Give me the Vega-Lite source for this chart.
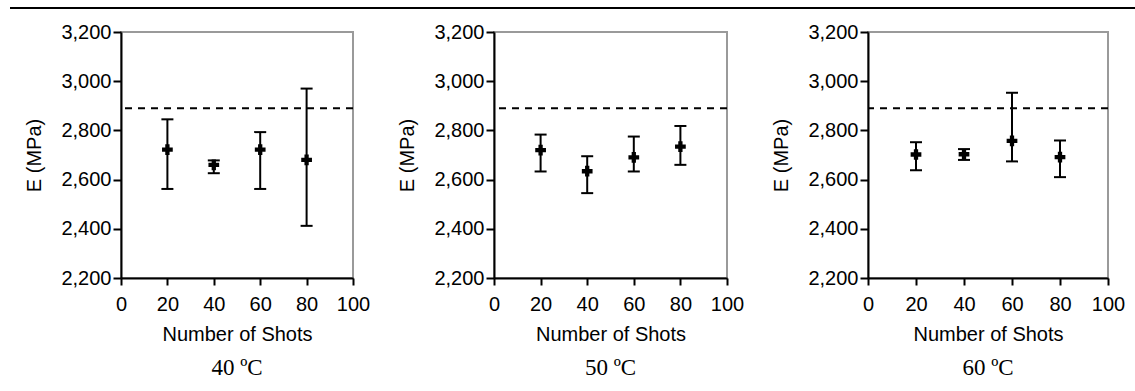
{
  "$schema": "https://vega.github.io/schema/vega-lite/v6.json",
  "padding": {"left": 9, "top": 7, "right": 0, "bottom": 0},
  "background": "white",
  "datasets": {
    "pts": [
      {"temp": "40 ºC", "shots": 20, "E": 2722, "lo": 2562, "hi": 2845},
      {"temp": "40 ºC", "shots": 40, "E": 2660, "lo": 2626, "hi": 2678},
      {"temp": "40 ºC", "shots": 60, "E": 2722, "lo": 2562, "hi": 2793},
      {"temp": "40 ºC", "shots": 80, "E": 2680, "lo": 2412, "hi": 2970},
      {"temp": "50 ºC", "shots": 20, "E": 2720, "lo": 2633, "hi": 2783},
      {"temp": "50 ºC", "shots": 40, "E": 2634, "lo": 2545, "hi": 2695},
      {"temp": "50 ºC", "shots": 60, "E": 2690, "lo": 2633, "hi": 2775},
      {"temp": "50 ºC", "shots": 80, "E": 2734, "lo": 2660, "hi": 2818},
      {"temp": "60 ºC", "shots": 20, "E": 2702, "lo": 2638, "hi": 2752},
      {"temp": "60 ºC", "shots": 40, "E": 2703, "lo": 2680, "hi": 2724},
      {"temp": "60 ºC", "shots": 60, "E": 2757, "lo": 2674, "hi": 2953},
      {"temp": "60 ºC", "shots": 80, "E": 2691, "lo": 2610, "hi": 2759}
    ],
    "ref": [
      {"temp": "40 ºC", "E": 2890},
      {"temp": "50 ºC", "E": 2890},
      {"temp": "60 ºC", "E": 2890}
    ],
    "top": [{"line": 1}],
    "none": []
  },
  "vconcat": [
    {
      "width": 1126,
      "height": 2,
      "data": {"name": "top"},
      "view": {"stroke": null},
      "mark": {"type": "rule", "color": "black", "strokeWidth": 2},
      "encoding": {"y": {"field": "line", "type": "quantitative", "scale": {"domain": [0, 1]}, "axis": null}}
    },
    {
      "hconcat": [
        {
          "width": 1, "height": 246,
          "data": {"name": "none"},
          "view": {"stroke": null},
          "mark": {"type": "point"},
          "encoding": {}
        },
        {
          "hconcat": [
            {
              "width": 232, "height": 246,
              "title": {"text": "40 ºC"},
              "layer": [
                {"data": {"name": "ref"}, "transform": [{"filter": "datum.temp == '40 ºC'"}],
                 "mark": {"type": "rule", "color": "black", "strokeWidth": 2, "strokeDash": [7, 6]},
                 "encoding": {"y": {"field": "E", "type": "quantitative", "scale": {"domain": [2200, 3200], "nice": false, "zero": false}, "axis": {"title": "E (MPa)", "values": [2200, 2400, 2600, 2800, 3000, 3200], "format": ",d"}}}},
                {"data": {"name": "pts"}, "transform": [{"filter": "datum.temp == '40 ºC'"}],
                 "mark": {"type": "rule", "color": "black", "strokeWidth": 2},
                 "encoding": {
                   "x": {"field": "shots", "type": "quantitative", "scale": {"domain": [0, 100], "nice": false, "zero": false}, "axis": {"title": "Number of Shots", "values": [0, 20, 40, 60, 80, 100]}},
                   "y": {"field": "lo", "type": "quantitative", "axis": {"title": "E (MPa)", "values": [2200, 2400, 2600, 2800, 3000, 3200], "format": ",d"}},
                   "y2": {"field": "hi"}}},
                {"data": {"name": "pts"}, "transform": [{"filter": "datum.temp == '40 ºC'"}],
                 "mark": {"type": "tick", "orient": "horizontal", "color": "black", "thickness": 2, "size": 12, "opacity": 1},
                 "encoding": {"x": {"field": "shots", "type": "quantitative", "axis": {"title": "Number of Shots", "values": [0, 20, 40, 60, 80, 100]}}, "y": {"field": "lo", "type": "quantitative", "axis": {"title": "E (MPa)", "values": [2200, 2400, 2600, 2800, 3000, 3200], "format": ",d"}}}},
                {"data": {"name": "pts"}, "transform": [{"filter": "datum.temp == '40 ºC'"}],
                 "mark": {"type": "tick", "orient": "horizontal", "color": "black", "thickness": 2, "size": 12, "opacity": 1},
                 "encoding": {"x": {"field": "shots", "type": "quantitative", "axis": {"title": "Number of Shots", "values": [0, 20, 40, 60, 80, 100]}}, "y": {"field": "hi", "type": "quantitative", "axis": {"title": "E (MPa)", "values": [2200, 2400, 2600, 2800, 3000, 3200], "format": ",d"}}}},
                {"data": {"name": "pts"}, "transform": [{"filter": "datum.temp == '40 ºC'"}],
                 "mark": {"type": "point", "shape": "cross", "filled": true, "color": "black", "size": 115, "opacity": 1},
                 "encoding": {"x": {"field": "shots", "type": "quantitative", "axis": {"title": "Number of Shots", "values": [0, 20, 40, 60, 80, 100]}}, "y": {"field": "E", "type": "quantitative", "axis": {"title": "E (MPa)", "values": [2200, 2400, 2600, 2800, 3000, 3200], "format": ",d"}}}}
              ]
            },
            {
              "width": 233, "height": 246,
              "title": {"text": "50 ºC"},
              "layer": [
                {"data": {"name": "ref"}, "transform": [{"filter": "datum.temp == '50 ºC'"}],
                 "mark": {"type": "rule", "color": "black", "strokeWidth": 2, "strokeDash": [7, 6]},
                 "encoding": {"y": {"field": "E", "type": "quantitative", "scale": {"domain": [2200, 3200], "nice": false, "zero": false}, "axis": {"title": "E (MPa)", "values": [2200, 2400, 2600, 2800, 3000, 3200], "format": ",d"}}}},
                {"data": {"name": "pts"}, "transform": [{"filter": "datum.temp == '50 ºC'"}],
                 "mark": {"type": "rule", "color": "black", "strokeWidth": 2},
                 "encoding": {
                   "x": {"field": "shots", "type": "quantitative", "scale": {"domain": [0, 100], "nice": false, "zero": false}, "axis": {"title": "Number of Shots", "values": [0, 20, 40, 60, 80, 100]}},
                   "y": {"field": "lo", "type": "quantitative", "axis": {"title": "E (MPa)", "values": [2200, 2400, 2600, 2800, 3000, 3200], "format": ",d"}},
                   "y2": {"field": "hi"}}},
                {"data": {"name": "pts"}, "transform": [{"filter": "datum.temp == '50 ºC'"}],
                 "mark": {"type": "tick", "orient": "horizontal", "color": "black", "thickness": 2, "size": 12, "opacity": 1},
                 "encoding": {"x": {"field": "shots", "type": "quantitative", "axis": {"title": "Number of Shots", "values": [0, 20, 40, 60, 80, 100]}}, "y": {"field": "lo", "type": "quantitative", "axis": {"title": "E (MPa)", "values": [2200, 2400, 2600, 2800, 3000, 3200], "format": ",d"}}}},
                {"data": {"name": "pts"}, "transform": [{"filter": "datum.temp == '50 ºC'"}],
                 "mark": {"type": "tick", "orient": "horizontal", "color": "black", "thickness": 2, "size": 12, "opacity": 1},
                 "encoding": {"x": {"field": "shots", "type": "quantitative", "axis": {"title": "Number of Shots", "values": [0, 20, 40, 60, 80, 100]}}, "y": {"field": "hi", "type": "quantitative", "axis": {"title": "E (MPa)", "values": [2200, 2400, 2600, 2800, 3000, 3200], "format": ",d"}}}},
                {"data": {"name": "pts"}, "transform": [{"filter": "datum.temp == '50 ºC'"}],
                 "mark": {"type": "point", "shape": "cross", "filled": true, "color": "black", "size": 115, "opacity": 1},
                 "encoding": {"x": {"field": "shots", "type": "quantitative", "axis": {"title": "Number of Shots", "values": [0, 20, 40, 60, 80, 100]}}, "y": {"field": "E", "type": "quantitative", "axis": {"title": "E (MPa)", "values": [2200, 2400, 2600, 2800, 3000, 3200], "format": ",d"}}}}
              ]
            },
            {
              "width": 240, "height": 246,
              "title": {"text": "60 ºC"},
              "layer": [
                {"data": {"name": "ref"}, "transform": [{"filter": "datum.temp == '60 ºC'"}],
                 "mark": {"type": "rule", "color": "black", "strokeWidth": 2, "strokeDash": [7, 6]},
                 "encoding": {"y": {"field": "E", "type": "quantitative", "scale": {"domain": [2200, 3200], "nice": false, "zero": false}, "axis": {"title": "E (MPa)", "values": [2200, 2400, 2600, 2800, 3000, 3200], "format": ",d"}}}},
                {"data": {"name": "pts"}, "transform": [{"filter": "datum.temp == '60 ºC'"}],
                 "mark": {"type": "rule", "color": "black", "strokeWidth": 2},
                 "encoding": {
                   "x": {"field": "shots", "type": "quantitative", "scale": {"domain": [0, 100], "nice": false, "zero": false}, "axis": {"title": "Number of Shots", "values": [0, 20, 40, 60, 80, 100]}},
                   "y": {"field": "lo", "type": "quantitative", "axis": {"title": "E (MPa)", "values": [2200, 2400, 2600, 2800, 3000, 3200], "format": ",d"}},
                   "y2": {"field": "hi"}}},
                {"data": {"name": "pts"}, "transform": [{"filter": "datum.temp == '60 ºC'"}],
                 "mark": {"type": "tick", "orient": "horizontal", "color": "black", "thickness": 2, "size": 12, "opacity": 1},
                 "encoding": {"x": {"field": "shots", "type": "quantitative", "axis": {"title": "Number of Shots", "values": [0, 20, 40, 60, 80, 100]}}, "y": {"field": "lo", "type": "quantitative", "axis": {"title": "E (MPa)", "values": [2200, 2400, 2600, 2800, 3000, 3200], "format": ",d"}}}},
                {"data": {"name": "pts"}, "transform": [{"filter": "datum.temp == '60 ºC'"}],
                 "mark": {"type": "tick", "orient": "horizontal", "color": "black", "thickness": 2, "size": 12, "opacity": 1},
                 "encoding": {"x": {"field": "shots", "type": "quantitative", "axis": {"title": "Number of Shots", "values": [0, 20, 40, 60, 80, 100]}}, "y": {"field": "hi", "type": "quantitative", "axis": {"title": "E (MPa)", "values": [2200, 2400, 2600, 2800, 3000, 3200], "format": ",d"}}}},
                {"data": {"name": "pts"}, "transform": [{"filter": "datum.temp == '60 ºC'"}],
                 "mark": {"type": "point", "shape": "cross", "filled": true, "color": "black", "size": 115, "opacity": 1},
                 "encoding": {"x": {"field": "shots", "type": "quantitative", "axis": {"title": "Number of Shots", "values": [0, 20, 40, 60, 80, 100]}}, "y": {"field": "E", "type": "quantitative", "axis": {"title": "E (MPa)", "values": [2200, 2400, 2600, 2800, 3000, 3200], "format": ",d"}}}}
              ]
            }
          ],
          "spacing": 25
        }
      ],
      "spacing": 12
    }
  ],
  "spacing": 11,
  "config": {
    "view": {"stroke": "#9a9a9a", "strokeWidth": 2},
    "axis": {"grid": false, "domainColor": "black", "domainWidth": 2, "tickColor": "black", "tickWidth": 2, "labelFlush": false, "labelOverlap": false, "labelFont": "Liberation Sans", "labelFontSize": 20, "labelColor": "black", "titleFont": "Liberation Sans", "titleFontSize": 20, "titleFontWeight": "normal", "titleColor": "black"},
    "axisX": {"tickSize": 7, "labelPadding": 9, "titlePadding": 10},
    "axisY": {"tickSize": 8, "labelPadding": 2, "titlePadding": 16},
    "title": {"font": "Liberation Serif", "fontSize": 23, "fontWeight": "normal", "color": "black", "orient": "bottom", "offset": 13, "anchor": "middle"}
  }
}
